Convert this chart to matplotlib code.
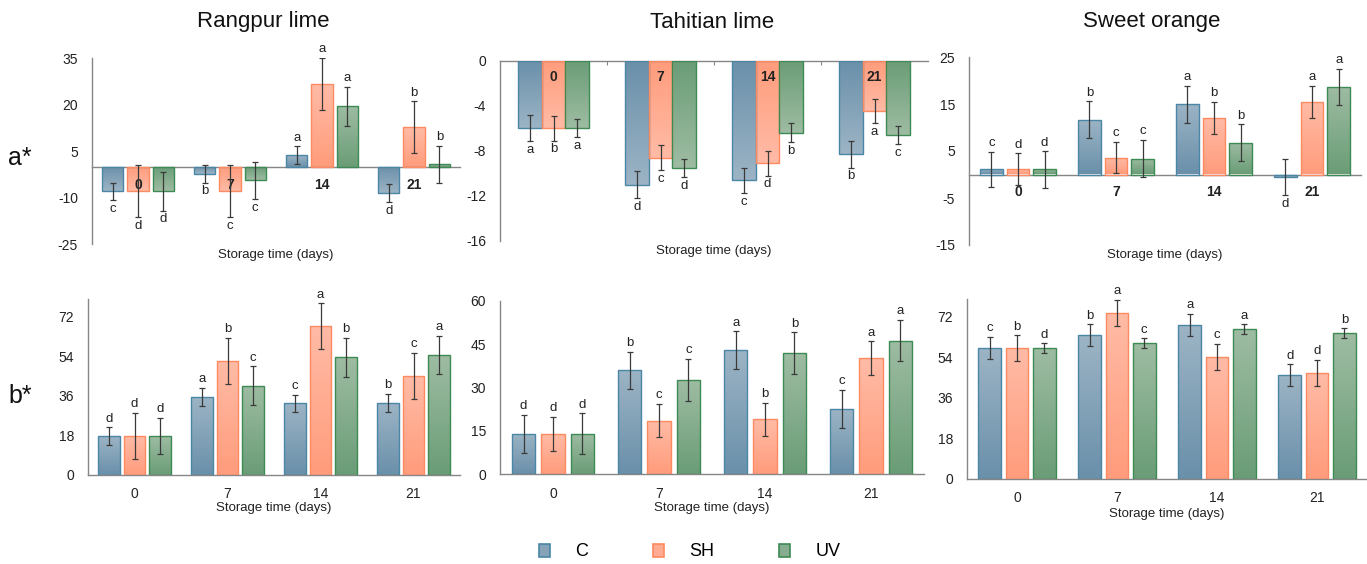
import numpy as np
import matplotlib
matplotlib.use('Agg')
import matplotlib.pyplot as plt
from matplotlib.colors import LinearSegmentedColormap
from matplotlib.patches import Patch

plt.rcParams['font.family'] = ['Liberation Sans', 'DejaVu Sans']
plt.rcParams['axes.unicode_minus'] = False

days = ['0', '7', '14', '21']
treatments = ['C', 'SH', 'UV']
fruits = ['Rangpur lime', 'Tahitian lime', 'Sweet orange']

# a* values (rows: C, SH, UV; columns: days 0, 7, 14, 21)
rangpur_a = [[-8.0, -2.3, 3.6, -8.7], [-8.0, -7.9, 26.7, 12.6], [-8.0, -4.5, 19.4, 0.65]]
rangpur_a_err = [[2.8, 2.9, 2.9, 2.9], [8.4, 8.4, 8.4, 8.4], [6.2, 6.0, 6.2, 6.0]]
rangpur_a_let = [['c', 'b', 'a', 'd'], ['d', 'c', 'a', 'b'], ['d', 'c', 'a', 'b']]

tahiti_a = [[-6.0, -11.0, -10.6, -8.3], [-6.0, -8.6, -9.1, -4.5], [-6.0, -9.55, -6.4, -6.6]]
tahiti_a_err = [[1.15, 1.17, 1.12, 1.18], [1.1, 1.1, 1.1, 1.07], [0.8, 0.8, 0.85, 0.83]]
tahiti_a_let = [['a', 'd', 'c', 'b'], ['b', 'c', 'd', 'a'], ['a', 'd', 'b', 'c']]

orange_a = [[1.07, 11.7, 14.95, -0.57], [1.07, 3.56, 12.1, 15.4], [1.07, 3.4, 6.76, 18.65]]
orange_a_err = [[3.8, 3.85, 3.9, 3.85], [3.4, 3.3, 3.4, 3.4], [3.85, 3.9, 3.9, 3.9]]
orange_a_let = [['c', 'b', 'a', 'd'], ['d', 'c', 'b', 'a'], ['d', 'c', 'b', 'a']]

# b* values
rangpur_b = [[17.75, 35.5, 32.6, 32.8], [17.75, 51.9, 67.7, 45.1], [17.75, 40.7, 53.6, 54.6]]
rangpur_b_err = [[3.9, 4.25, 3.95, 4.2], [10.5, 10.5, 10.5, 10.5], [8.4, 8.8, 8.8, 8.8]]
rangpur_b_let = [['d', 'a', 'c', 'b'], ['d', 'b', 'a', 'c'], ['d', 'c', 'b', 'a']]

tahiti_b = [[13.9, 35.9, 42.9, 22.5], [13.9, 18.5, 19.0, 40.1], [13.9, 32.5, 41.8, 46.2]]
tahiti_b_err = [[6.6, 6.45, 6.5, 6.5], [5.8, 5.75, 5.75, 5.8], [7.1, 7.25, 7.25, 7.25]]
tahiti_b_let = [['d', 'b', 'a', 'c'], ['d', 'c', 'b', 'a'], ['d', 'c', 'b', 'a']]

orange_b = [[58.0, 63.8, 68.2, 46.0], [58.0, 73.7, 54.0, 47.2], [58.0, 60.2, 66.4, 64.6]]
orange_b_err = [[4.9, 4.8, 4.9, 4.9], [5.7, 5.7, 5.8, 5.8], [2.15, 2.2, 2.2, 2.2]]
orange_b_let = [['c', 'b', 'a', 'd'], ['b', 'a', 'c', 'd'], ['d', 'c', 'a', 'b']]

# colours: (base/dark, end/light), edge
grad_cols = [('#6a90aa', '#9cb4c5'), ('#ff9c7c', '#ffbba6'), ('#6a9d77', '#9ebca2')]
edge_cols = ['#4a86a6', '#fd8a60', '#3d8a55']
legend_cols = ['#86a3b8', '#ffac93', '#86ad8f']

W, H = 1367, 564
fig = plt.figure(figsize=(W / 100, H / 100), dpi=100)


def px_axes(x0, x1, y_top, y_bot):
    return fig.add_axes([x0 / W, 1 - y_bot / H, (x1 - x0) / W, (y_bot - y_top) / H])


def draw_panel(ax, means, errs, letters, ylim, yticks, width, step):
    x = np.arange(len(days))
    grad = np.linspace(0, 1, 64).reshape(-1, 1)
    for k in range(len(treatments)):
        pos = x + (k - 1) * step
        cmap = LinearSegmentedColormap.from_list('g%d' % k, grad_cols[k])
        bars = ax.bar(pos, means[k], width, facecolor='none', edgecolor=edge_cols[k],
                      linewidth=1.0, zorder=3)
        for b, xp, m in zip(bars, pos, means[k]):
            im = ax.imshow(grad, cmap=cmap, extent=[xp - width / 2, xp + width / 2, 0, m],
                           origin='lower', aspect='auto', zorder=2)
            im.set_clip_path(b)
        ax.errorbar(pos, means[k], yerr=errs[k], fmt='none', ecolor='#3a3a3a',
                    elinewidth=0.9, capsize=2.2, capthick=0.9, zorder=4)
        for xp, m, e, lt in zip(pos, means[k], errs[k], letters[k]):
            if m >= 0:
                ax.annotate(lt, (xp, m + e), xytext=(0, 2), textcoords='offset points',
                            ha='center', va='bottom', fontsize=9.5, color='#222222')
            else:
                ax.annotate(lt, (xp, m - e), xytext=(0, -2), textcoords='offset points',
                            ha='center', va='top', fontsize=9.5, color='#222222')
    ax.set_xlim(-0.5, len(days) - 0.5)
    ax.set_ylim(ylim)
    ax.set_yticks(yticks)
    ax.tick_params(axis='y', length=0, labelsize=10, pad=10, colors='#222222')
    for s in ['top', 'right']:
        ax.spines[s].set_visible(False)
    for s in ['left', 'bottom']:
        ax.spines[s].set_color('#868686')
        ax.spines[s].set_linewidth(1.0)


# top row: a*
ax1 = px_axes(92, 460, 58, 244)
draw_panel(ax1, rangpur_a, rangpur_a_err, rangpur_a_let, (-25, 35), [-25, -10, 5, 20, 35], 0.23, 0.275)
ax2 = px_axes(500, 928, 60.7, 241)
draw_panel(ax2, tahiti_a, tahiti_a_err, tahiti_a_let, (-16, 0), [-16, -12, -8, -4, 0], 0.22, 0.22)
ax3 = px_axes(969, 1361, 57, 245)
draw_panel(ax3, orange_a, orange_a_err, orange_a_let, (-15, 25), [-15, -5, 5, 15, 25], 0.23, 0.272)

for ax, off in [(ax1, -18), (ax2, -16), (ax3, -18)]:
    ax.spines['bottom'].set_position(('data', 0))
    ax.set_xticks([])
    for i, d in enumerate(days):
        ax.annotate(d, (i, 0), xytext=(0, off * 0.72), textcoords='offset points',
                    ha='center', va='center', fontsize=10, fontweight='bold', color='#222222')
ax2.set_xticks([0.5, 1.5, 2.5])
ax2.set_xticklabels([])
ax2.tick_params(axis='x', length=3, color='#868686', direction='out')

# bottom row: b*
ax4 = px_axes(88, 460, 299.4, 475)
draw_panel(ax4, rangpur_b, rangpur_b_err, rangpur_b_let, (0, 80), [0, 18, 36, 54, 72], 0.23, 0.275)
ax5 = px_axes(500, 924, 300.7, 474)
draw_panel(ax5, tahiti_b, tahiti_b_err, tahiti_b_let, (0, 60), [0, 15, 30, 45, 60], 0.22, 0.277)
ax6 = px_axes(967, 1367, 298.7, 479)
draw_panel(ax6, orange_b, orange_b_err, orange_b_let, (0, 80), [0, 18, 36, 54, 72], 0.225, 0.273)

for ax in [ax4, ax5, ax6]:
    ax.set_xticks(range(len(days)))
    ax.set_xticklabels(days)
    ax.tick_params(axis='x', length=0, labelsize=10, pad=9, colors='#222222')

# x axis titles
for xc, yc in [(276, 255), (714, 251), (1165, 255), (274, 508), (712, 508), (1167, 514)]:
    fig.text(xc / W, 1 - yc / H, 'Storage time (days)', ha='center', va='center',
             fontsize=9.5, color='#222222')

# column titles
for xc, name in zip([263, 712, 1152], fruits):
    fig.text(xc / W, 1 - 22 / H, name, ha='center', va='center', fontsize=16, color='#111111')

# row titles
fig.text(20 / W, 1 - 158 / H, 'a*', ha='center', va='center', fontsize=18, color='#111111')
fig.text(20 / W, 1 - 396 / H, 'b*', ha='center', va='center', fontsize=18, color='#111111')

handles = [Patch(facecolor=legend_cols[k], edgecolor=edge_cols[k], linewidth=1.2)
           for k in range(len(treatments))]
fig.legend(handles, treatments, loc='center', bbox_to_anchor=(690 / W, 1 - 552 / H), ncol=3,
           frameon=False, fontsize=13, handlelength=0.6, handleheight=0.75,
           handletextpad=1.4, columnspacing=3.6)

fig.savefig('out.png', dpi=100)
